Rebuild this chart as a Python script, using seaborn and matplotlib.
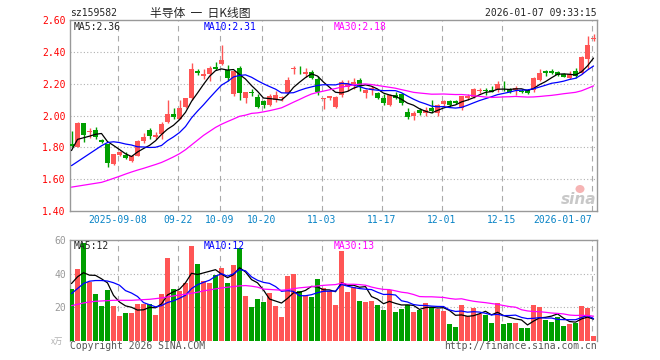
import numpy as np
import pandas as pd
import matplotlib
matplotlib.use('Agg')
import matplotlib.pyplot as plt
from matplotlib.patches import Ellipse
import seaborn as sns

# daily candles, 2025-08-27 .. 2026-01-07
opens = [1.82, 1.804, 1.956, 1.895, 1.908, 1.845, 1.82, 1.696, 1.75, 1.752,
         1.717, 1.748, 1.842, 1.908, 1.866, 1.883, 1.96, 2.012, 1.977, 2.056,
         2.112, 2.28, 2.248, 2.26, 2.306, 2.325, 2.283, 2.133, 2.296, 2.112,
         2.145, 2.117, 2.092, 2.065, 2.10, 2.11, 2.14, 2.29, 2.288, 2.262,
         2.275, 2.227, 2.105, 2.108, 2.056, 2.127, 2.18, 2.196, 2.22, 2.144,
         2.158, 2.14, 2.108, 2.065, 2.13, 2.137, 2.019, 1.998, 2.035, 2.013,
         2.05, 2.013, 2.071, 2.092, 2.09, 2.044, 2.108, 2.119, 2.155, 2.16,
         2.16, 2.16, 2.175, 2.165, 2.16, 2.155, 2.158, 2.158, 2.223, 2.278,
         2.28, 2.275, 2.258, 2.237, 2.28, 2.27, 2.356, 2.483]
highs = [1.90, 1.96, 1.956, 1.92, 1.925, 1.85, 1.822, 1.76, 1.775, 1.768,
         1.752, 1.845, 1.89, 1.92, 1.895, 1.958, 2.096, 2.044, 2.10, 2.112,
         2.33, 2.29, 2.29, 2.31, 2.335, 2.446, 2.315, 2.279, 2.31, 2.148,
         2.165, 2.133, 2.10, 2.133, 2.154, 2.123, 2.24, 2.31, 2.31, 2.30,
         2.285, 2.248, 2.112, 2.125, 2.125, 2.221, 2.221, 2.238, 2.238, 2.165,
         2.185, 2.148, 2.133, 2.133, 2.145, 2.144, 2.05, 2.029, 2.048, 2.056,
         2.10, 2.071, 2.10, 2.096, 2.10, 2.123, 2.133, 2.175, 2.175, 2.175,
         2.185, 2.217, 2.217, 2.17, 2.185, 2.165, 2.165, 2.24, 2.29, 2.285,
         2.29, 2.28, 2.27, 2.28, 2.30, 2.375, 2.50, 2.51]
lows = [1.80, 1.80, 1.835, 1.86, 1.85, 1.83, 1.675, 1.69, 1.745, 1.727,
        1.71, 1.745, 1.825, 1.85, 1.855, 1.85, 1.956, 1.98, 1.977, 2.05,
        2.10, 2.255, 2.23, 2.215, 2.285, 2.32, 2.218, 2.12, 2.10, 2.08,
        2.12, 2.044, 2.044, 2.057, 2.085, 2.092, 2.133, 2.26, 2.26, 2.24,
        2.227, 2.127, 2.04, 2.10, 2.05, 2.119, 2.156, 2.165, 2.156, 2.112,
        2.127, 2.104, 2.065, 2.06, 2.104, 2.069, 1.977, 1.973, 2.002, 1.994,
        2.015, 1.998, 2.06, 2.056, 2.07, 2.035, 2.098, 2.112, 2.14, 2.13,
        2.145, 2.145, 2.156, 2.14, 2.127, 2.14, 2.135, 2.148, 2.217, 2.25,
        2.26, 2.25, 2.24, 2.23, 2.237, 2.26, 2.29, 2.465]
closes = [1.81, 1.956, 1.877, 1.90, 1.867, 1.835, 1.70, 1.758, 1.77, 1.735,
          1.748, 1.842, 1.867, 1.869, 1.88, 1.946, 2.008, 1.99, 2.044, 2.112,
          2.29, 2.27, 2.262, 2.296, 2.29, 2.346, 2.233, 2.279, 2.14, 2.148,
          2.14, 2.054, 2.067, 2.123, 2.127, 2.114, 2.22, 2.30, 2.283, 2.275,
          2.233, 2.148, 2.11, 2.12, 2.119, 2.213, 2.196, 2.21, 2.185, 2.158,
          2.171, 2.108, 2.081, 2.127, 2.112, 2.081, 1.988, 2.015, 2.015, 2.035,
          2.029, 2.065, 2.092, 2.067, 2.08, 2.123, 2.123, 2.165, 2.16, 2.156,
          2.148, 2.196, 2.17, 2.148, 2.175, 2.15, 2.14, 2.235, 2.27, 2.27,
          2.27, 2.252, 2.245, 2.258, 2.248, 2.37, 2.44, 2.487]
# volume, x 10k
volumes = [31, 42.6, 58, 34.8, 28, 20.8, 30.4, 20.8, 14.8, 16.6,
           16.6, 22, 21.6, 22, 15.4, 28, 49, 31, 29.8, 34.6,
           56.2, 45.4, 35.8, 34.6, 39.4, 43, 34.6, 44.8, 55.4, 26.8,
           20.2, 25, 23.2, 28.6, 20.8, 14.2, 38.8, 40, 29.8, 26.8,
           26.2, 37, 31.6, 29.4, 21.4, 53.4, 28.8, 32, 23.4, 23.2,
           23.8, 21, 18.4, 30.4, 17.2, 19, 21.4, 16.8, 18.4, 22.6,
           20.2, 19, 17.8, 10, 8.2, 21.4, 14.8, 19.6, 16, 15.4,
           10.6, 22.6, 10, 10.6, 10.6, 7.6, 7.6, 21.4, 20.2, 12.4,
           11.2, 14.2, 8.8, 10, 10.6, 20.8, 19.6, 2.8]

# moving averages before enough visible history exists
ma5_head = [1.78, 1.85, 1.86, 1.87]
ma10_head = [1.685, 1.71, 1.735, 1.76, 1.785, 1.81, 1.83, 1.835, 1.83]
ma30_head = [1.550, 1.556, 1.562, 1.568, 1.574, 1.580, 1.592, 1.605, 1.618, 1.632,
             1.645, 1.657, 1.668, 1.680, 1.692, 1.705, 1.722, 1.740, 1.760, 1.785,
             1.815, 1.845, 1.875, 1.900, 1.925, 1.945, 1.962, 1.978, 1.995]
vma5_head = [34, 38, 40.5, 39]
vma10_head = [28, 31, 34, 35.4, 35.8, 35.8, 35.5, 34.5, 33]
vma30_head = [20.8, 21.6, 22.4, 23, 23.4, 23.6, 23.8, 24, 24, 24,
              24, 24.2, 24.4, 24.6, 25, 25.4, 26, 26.6, 27.2, 27.6,
              28.2, 28.8, 29.6, 30.2, 30.8, 31.4, 31.8, 32.2, 32.6]

tick_pos = [8, 18, 25, 32, 42, 52, 62, 72, 87]
tick_labels = ['2025-09-08', '09-22', '10-09', '10-20', '11-03',
               '11-17', '12-01', '12-15', '2026-01-07']

RED = '#ff5555'
GREEN = '#009f00'
MONO = 'DejaVu Sans Mono'
CJK = ['Noto Sans CJK SC', 'DejaVu Sans']


def moving(vals, n, head):
    s = pd.Series(vals, dtype=float).rolling(n).mean()
    s.iloc[:len(head)] = head
    return s.values


df = pd.DataFrame({'o': opens, 'h': highs, 'l': lows, 'c': closes, 'v': volumes})
df['i'] = np.arange(len(df))
df['up'] = df['c'] >= df['o']
df['ma5'] = moving(closes, 5, ma5_head)
df['ma10'] = moving(closes, 10, ma10_head)
df['ma30'] = moving(closes, 30, ma30_head)
df['vma5'] = moving(volumes, 5, vma5_head)
df['vma10'] = moving(volumes, 10, vma10_head)
df['vma30'] = moving(volumes, 30, vma30_head)
colors = np.where(df['up'], RED, GREEN)

sns.set_style('white')
plt.rcParams['font.family'] = MONO

fig = plt.figure(figsize=(6.6, 3.6), dpi=100)
W, H = 660, 360


def box(x0, y0, x1, y1):
    return [x0 / W, 1 - y1 / H, (x1 - x0) / W, (y1 - y0) / H]


ax = fig.add_axes(box(70, 20, 597, 211))
axv = fig.add_axes(box(70, 240, 597, 340.5))
xlim = (-0.25, 87.58)

# --- price panel
ax.vlines(df['i'], df['l'], df['h'], colors=colors, lw=1, zorder=3)
body = (df['c'] - df['o']).abs().clip(lower=0.004)
ax.bar(df['i'], body, bottom=df[['o', 'c']].min(axis=1), width=0.68,
       color=colors, lw=0, zorder=4)
for col, c in [('ma5', 'black'), ('ma10', '#0000ff'), ('ma30', '#ff00ff')]:
    sns.lineplot(data=df, x='i', y=col, ax=ax, color=c, lw=0.9, zorder=5)
ax.set_xlim(*xlim)
ax.set_ylim(1.40, 2.60)
ax.set_yticks([1.40, 1.60, 1.80, 2.00, 2.20, 2.40, 2.60])
ax.set_yticklabels([f'{t:.2f}' for t in ax.get_yticks()], color='#ff0000', fontsize=7)
for t in [1.60, 1.80, 2.00, 2.20, 2.40]:
    ax.axhline(t, color='#b0b0b0', ls=(0, (1, 2)), lw=0.8, zorder=1)
ax.set_xticks([p - 0.25 for p in tick_pos])
ax.set_xticklabels(tick_labels, color='#0a84c6', fontsize=7)
lbls = ax.get_xticklabels()
lbls[-1].set_ha('right')

# --- volume panel
axv.bar(df['i'], df['v'], width=0.82, color=colors, lw=0, zorder=3)
for col, c in [('vma5', 'black'), ('vma10', '#0000ff'), ('vma30', '#ff00ff')]:
    sns.lineplot(data=df, x='i', y=col, ax=axv, color=c, lw=0.9, zorder=5)
axv.set_xlim(*xlim)
axv.set_ylim(0, 60)
axv.set_yticks([20, 40, 60])
axv.set_yticklabels(['20', '40', '60'], color='#999999', fontsize=7)
for t in [20, 40]:
    axv.axhline(t, color='#b0b0b0', ls=(0, (1, 2)), lw=0.8, zorder=1)
axv.set_xticks([])

for a in (ax, axv):
    for p in tick_pos:
        a.axvline(p - 0.25, color='#aaaaaa', ls=(0, (5, 4)), lw=0.8, zorder=1)
    for s in a.spines.values():
        s.set_color('#999999')
        s.set_linewidth(1)
    a.set_xlabel('')
    a.set_ylabel('')
    a.tick_params(length=0, pad=3)
    a.grid(False)
axv.spines['bottom'].set_visible(False)


def ftxt(x, y, s, **kw):
    kw.setdefault('fontsize', 7)
    kw.setdefault('va', 'center')
    fig.text(x / W, 1 - y / H, s, **kw)


ftxt(70, 13, 'sz159582')
ftxt(150, 13, '半导体  一  日K线图', family=CJK, fontsize=8.5)
ftxt(597, 13, '2026-01-07 09:33:15', ha='right')
ftxt(74, 27, 'MA5:2.36')
ftxt(204, 27, 'MA10:2.31', color='#0000ff')
ftxt(334, 27, 'MA30:2.18', color='#ff00ff')
ftxt(74, 246, 'MA5:12')
ftxt(204, 246, 'MA10:12', color='#0000ff')
ftxt(334, 246, 'MA30:13', color='#ff00ff')
ftxt(63, 341, 'x万', ha='right', color='#b0b0b0', family=CJK, fontsize=6)
ftxt(70, 346, 'Copyright 2026 SINA.COM', color='#555555')
ftxt(597, 346, 'http://finance.sina.com.cn', ha='right', color='#555555')
# sina watermark: pale red eye + grey wordmark
fig.add_artist(Ellipse((580 / W, 1 - 189 / H), 9 / W, 8 / H,
                       color='#f6b4b4', lw=0, transform=fig.transFigure))
ftxt(596, 199, 'sina', ha='right', color='#c8c8c8', fontsize=11,
     fontweight='bold', fontstyle='italic', family='DejaVu Sans')

fig.savefig('out.png', dpi=100)
